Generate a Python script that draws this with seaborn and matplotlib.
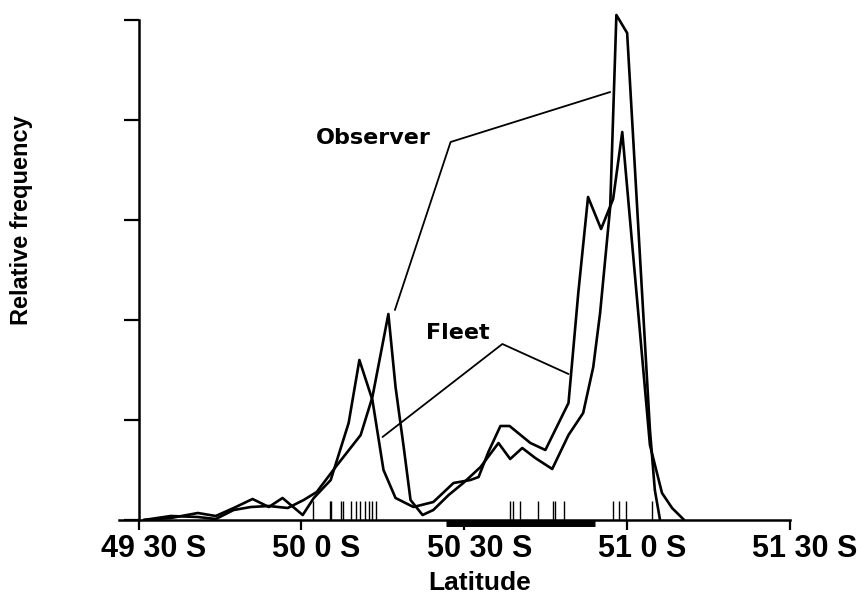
import matplotlib
matplotlib.use("Agg")
import matplotlib.pyplot as plt
import matplotlib.transforms as mtransforms
import pandas as pd
import seaborn as sns

# ---------------- data (latitude in decimal degrees south) ----------------
obs_lat = [49.516, 49.599, 49.682, 49.737, 49.792, 49.845, 49.900, 49.958, 50.007,
           50.047, 50.105, 50.182, 50.218, 50.267, 50.289, 50.314, 50.335, 50.372,
           50.405, 50.452, 50.497, 50.550, 50.605, 50.641, 50.678, 50.718, 50.770,
           50.820, 50.865, 50.896, 50.917, 50.948, 50.967, 51.000, 51.070, 51.085,
           51.101]
obs_freq = [0.00, 0.04, 0.03, 0.01, 0.10, 0.13, 0.14, 0.12, 0.20,
            0.28, 0.53, 0.85, 1.23, 2.06, 1.33, 0.73, 0.20, 0.05,
            0.10, 0.25, 0.37, 0.53, 0.77, 0.61, 0.72, 0.62, 0.51,
            0.85, 1.07, 1.53, 2.07, 3.13, 5.05, 4.87, 0.90, 0.30,
            0.00]

fleet_lat = [49.516, 49.599, 49.682, 49.737, 49.792, 49.850, 49.900, 49.942, 50.004,
             50.038, 50.090, 50.145, 50.178, 50.218, 50.252, 50.289, 50.344, 50.405,
             50.467, 50.519, 50.544, 50.574, 50.611, 50.639, 50.703, 50.749, 50.820,
             50.850, 50.880, 50.920, 50.957, 50.985, 51.070, 51.107, 51.138, 51.175]
fleet_freq = [0.00, 0.02, 0.07, 0.04, 0.12, 0.21, 0.13, 0.22, 0.05,
              0.22, 0.40, 0.97, 1.60, 1.20, 0.50, 0.22, 0.13, 0.18,
              0.37, 0.40, 0.43, 0.68, 0.94, 0.94, 0.77, 0.70, 1.17,
              2.27, 3.23, 2.91, 3.21, 3.88, 0.75, 0.27, 0.12, 0.00]

# sampling positions shown as ticks along the axis
rug_lat = [50.035, 50.087, 50.092, 50.123, 50.129, 50.151, 50.167, 50.179, 50.194,
           50.207, 50.218, 50.228, 50.641, 50.650, 50.672, 50.725, 50.773, 50.780,
           50.807, 50.957, 50.975, 50.997, 51.077]

# closed-area bar below the axis
closed_area = [50.445, 50.902]

x_ticks = [49.5, 50.0, 50.5, 51.0, 51.5]
x_tick_labels = ["49 30 S", "50 0 S", "50 30 S", "51 0 S", "51 30 S"]
y_ticks = [0, 1, 2, 3, 4, 5]

# annotation labels and leader lines (lat, value)
obs_label = (50.222, 3.82)
obs_leader_lat = [50.287, 50.458, 50.948]
obs_leader_val = [2.10, 3.78, 4.28]
fleet_label = (50.479, 1.87)
fleet_leader_lat = [50.249, 50.617, 50.820]
fleet_leader_val = [0.83, 1.76, 1.46]

df = pd.concat([
    pd.DataFrame({"lat": obs_lat, "freq": obs_freq, "series": "Observer"}),
    pd.DataFrame({"lat": fleet_lat, "freq": fleet_freq, "series": "Fleet"}),
], ignore_index=True)

# ---------------- plot ----------------
sns.set_theme(style="ticks")
plt.rcParams["font.family"] = ["Liberation Sans", "DejaVu Sans"]
plt.rcParams["text.color"] = "black"
plt.rcParams["axes.labelcolor"] = "black"
plt.rcParams["xtick.color"] = "black"
plt.rcParams["ytick.color"] = "black"

W, H = 857, 597
fig = plt.figure(figsize=(W / 100, H / 100), dpi=100)
ax = fig.add_axes([119 / W, 1 - 520 / H, (790 - 119) / W, 510 / H])

sns.lineplot(data=df, x="lat", y="freq", hue="series",
             palette={"Observer": "black", "Fleet": "black"},
             estimator=None, sort=False, lw=1.9, legend=False, ax=ax)
sns.rugplot(x=rug_lat, height=0.038, color="black", lw=1.0, ax=ax)

bar_tr = mtransforms.offset_copy(ax.transData, fig=fig, y=-3, units="dots")
ax.plot(closed_area, [0, 0], color="black", lw=5, solid_capstyle="butt",
        clip_on=False, transform=bar_tr)

ax.plot(obs_leader_lat, obs_leader_val, color="black", lw=1.3)
ax.plot(fleet_leader_lat, fleet_leader_val, color="black", lw=1.3)
ax.text(*obs_label, "Observer", family="DejaVu Sans", weight="bold",
        fontsize=16, ha="center", va="center", color="black")
ax.text(*fleet_label, "Fleet", family="DejaVu Sans", weight="bold",
        fontsize=16, ha="center", va="center", color="black")

ax.set_xlim(49.44, 51.5)
ax.set_ylim(0, 5.1)
sns.despine(ax=ax)
ax.spines["left"].set_position(("data", 49.5))
ax.spines["left"].set_bounds(0, 5)
for s in ("left", "bottom"):
    ax.spines[s].set_linewidth(1.8)
    ax.spines[s].set_color("black")

ax.set_xticks(x_ticks)
ax.set_xticklabels(x_tick_labels, fontsize=22, fontweight="bold", color="black")
ax.set_yticks(y_ticks)
ax.set_yticklabels([])
ax.tick_params(axis="x", length=7, width=1.6, direction="out", pad=3, colors="black")
ax.tick_params(axis="y", length=11, width=1.6, direction="out", colors="black")
ax.set_xlabel("")
ax.set_ylabel("")

# numeric part of each label is centred on its tick, the "S" hangs right
shift = mtransforms.ScaledTranslation(0.15, 0, fig.dpi_scale_trans)
for lbl in ax.get_xticklabels():
    lbl.set_transform(lbl.get_transform() + shift)

fig.text(22 / W, 1 - 220 / H, "Relative frequency", rotation=90,
         ha="center", va="center", fontsize=17, fontweight="bold", color="black")
fig.text(480 / W, 1 - 583 / H, "Latitude", ha="center", va="center",
         fontsize=19, fontweight="bold", color="black")

fig.savefig("out.png", dpi=100, facecolor="white")
